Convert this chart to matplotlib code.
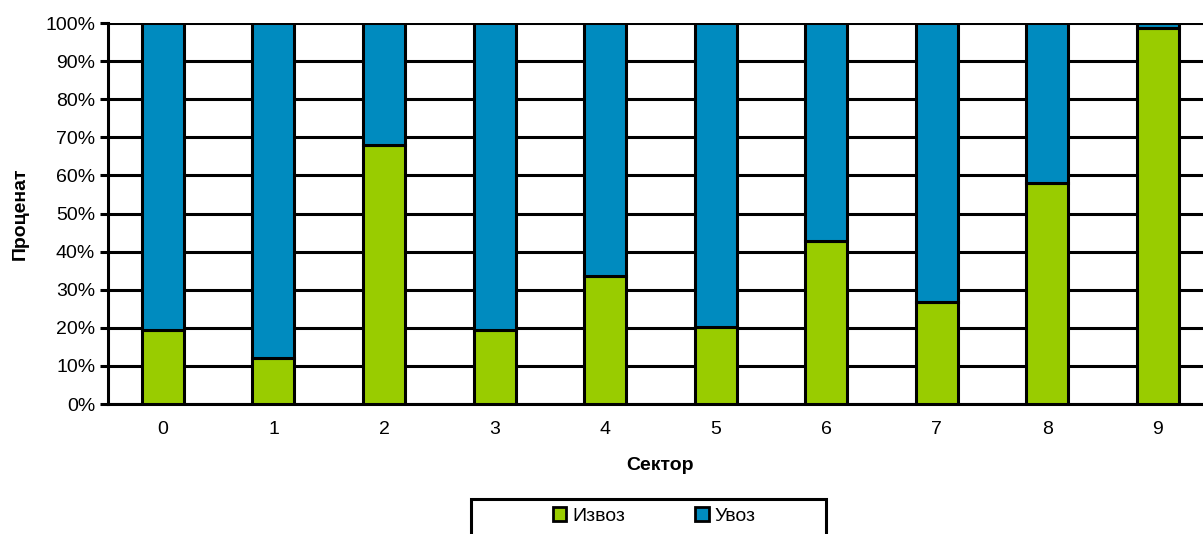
import matplotlib
matplotlib.use("Agg")
import numpy as np
import matplotlib.pyplot as plt
import matplotlib.patches as mpatches
from matplotlib.ticker import PercentFormatter

plt.rcParams["font.family"] = ["Liberation Sans", "DejaVu Sans"]

# data (percent share per sector)
sectors = ["0", "1", "2", "3", "4", "5", "6", "7", "8", "9"]
izvoz = [19.3, 12.2, 68.0, 19.3, 33.6, 20.3, 42.8, 26.8, 58.0, 98.6]
uvoz = [100 - v for v in izvoz]

green = "#99cc00"
blue = "#008bbf"

fig = plt.figure(figsize=(12.03, 5.34), dpi=100)
ax = fig.add_axes([0.0895, 0.2434, 0.9188, 0.7135])

x = np.arange(len(sectors))
ax.bar(x, izvoz, width=0.38, color=green, edgecolor="black", linewidth=2.2,
       label="Извоз", zorder=3)
ax.bar(x, uvoz, width=0.38, bottom=izvoz, color=blue, edgecolor="black",
       linewidth=2.2, label="Увоз", zorder=3)

ax.set_xlim(-0.5, len(sectors) - 0.5)
ax.set_ylim(0, 100)
ax.set_yticks(np.arange(0, 101, 10))
ax.yaxis.set_major_formatter(PercentFormatter(decimals=0))
ax.set_xticks(x)
ax.set_xticklabels(sectors)

ax.grid(axis="y", color="black", linewidth=2.2, zorder=1)
ax.set_axisbelow(True)
for s in ["top", "right"]:
    ax.spines[s].set_visible(False)
ax.spines["left"].set_linewidth(2.2)
ax.spines["bottom"].set_linewidth(2.2)

ax.tick_params(axis="y", length=6, width=2.2, labelsize=14, pad=3)
ax.tick_params(axis="x", length=0, labelsize=14, pad=12)

ax.set_xlabel("Сектор", fontsize=14, fontweight="bold", labelpad=14)
ax.set_ylabel("Проценат", fontsize=14, fontweight="bold", labelpad=12)

# legend box (frame runs past the bottom edge, as in the original)
fig.patches.append(mpatches.Rectangle(
    (471 / 1203, -0.05), 355 / 1203, 0.05 + 35 / 534,
    transform=fig.transFigure, facecolor="white", edgecolor="black",
    linewidth=2.2, zorder=0))

leg = fig.legend(loc="center", bbox_to_anchor=(654 / 1203, 1 - 516 / 534),
                 ncol=2, fontsize=14, frameon=False,
                 handlelength=0.7, handleheight=0.7, handletextpad=0.3,
                 columnspacing=3.6, borderaxespad=0)
for h in leg.legend_handles:
    h.set_linewidth(2.0)

fig.savefig("out.png", dpi=100, facecolor="white")
